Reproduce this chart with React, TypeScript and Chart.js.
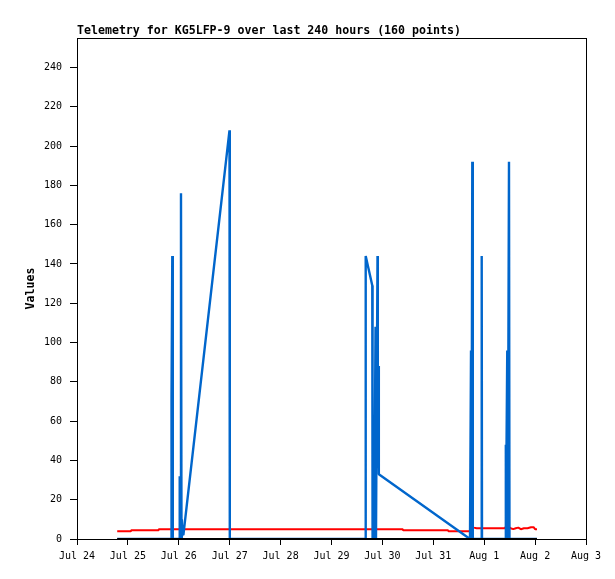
// App.tsx
import { useEffect, useRef } from "react";
import { Chart, registerables } from "chart.js";
import type { ChartConfiguration, Plugin } from "chart.js";

Chart.register(...registerables);

const TITLE = "Telemetry for KG5LFP-9 over last 240 hours (160 points)";
const Y_TITLE = "Values";

// x axis: days since Jul 24 00:00
const X_TICK_LABELS = ["Jul 24", "Jul 25", "Jul 26", "Jul 27", "Jul 28", "Jul 29", "Jul 30", "Jul 31", "Aug 1", "Aug 2", "Aug 3"];

const blueDays = [
  0.79, 1.85, 1.857, 1.872, 1.882, 2.014, 2.018, 2.033, 2.043, 2.053, 2.06, 2.07, 2.08, 2.09,
  2.996, 3.002, 5.668, 5.672, 5.801, 5.807, 5.83, 5.84, 5.865, 5.874, 5.904, 5.91, 5.923, 5.93,
  7.721, 7.741, 7.75, 7.766, 7.776, 7.947, 7.951, 7.957, 8.418, 8.422, 8.428, 8.453, 8.463, 8.487, 8.497, 9.037,
];
const blueValues = [
  0, 0, 72, 144, 0, 0, 32, 0, 176, 0, 10, 2, 6, 2,
  208, 0, 0, 144, 129, 0, 13, 0, 108, 0, 144, 36, 88, 33,
  0, 96, 0, 192, 0, 0, 144, 0, 0, 48, 0, 96, 0, 192, 0, 0,
];

const redDays = [
  0.79, 1.06, 1.065, 1.6, 1.605, 2.05, 2.055, 2.075, 2.08, 6.4, 6.405, 7.29, 7.295, 7.75,
  7.77, 7.8, 7.85, 7.95, 8.4, 8.42, 8.47, 8.52, 8.57, 8.62, 8.67, 8.72, 8.78, 8.85, 8.92, 8.97, 9.0, 9.037,
];
const redValues = [
  4, 4, 4.5, 4.5, 5, 5, 4, 4, 5, 5, 4.5, 4.5, 4, 4,
  6, 5.8, 5.5, 5.5, 5.5, 6, 6.2, 5.5, 5, 5.5, 5.8, 5, 5.5, 5.5, 6, 6, 5, 5,
];

const blackDays = [0.79, 9.037];
const blackValues = [0, 0];

const toPoints = (xs: number[], ys: number[]) => xs.map((x, i) => ({ x, y: ys[i] }));

const MONO = "'DejaVu Sans Mono', monospace";

const framePlugin: Plugin<"line"> = {
  id: "frame",
  beforeDatasetsDraw(chart) {
    const { ctx, chartArea: a } = chart;
    ctx.save();
    ctx.strokeStyle = "#000";
    ctx.lineWidth = 1;
    ctx.strokeRect(a.left + 0.5, a.top + 0.5, a.right - a.left, a.bottom - a.top);
    ctx.restore();
  },
  afterDraw(chart) {
    const { ctx, chartArea: a } = chart;
    ctx.save();
    ctx.fillStyle = "#000";
    ctx.font = `bold 11.6px ${MONO}`;
    ctx.textAlign = "left";
    ctx.textBaseline = "alphabetic";
    ctx.fillText(TITLE, a.left, 34);
    ctx.restore();
  },
};

export default function App() {
  const canvasRef = useRef<HTMLCanvasElement | null>(null);
  const chartRef = useRef<Chart | null>(null);

  useEffect(() => {
    document.body.style.margin = "0";
    const ctx = canvasRef.current!.getContext("2d")!;

    const config: ChartConfiguration<"line", { x: number; y: number }[]> = {
      type: "line",
      data: {
        datasets: [
          {
            label: "black",
            data: toPoints(blackDays, blackValues),
            borderColor: "#000000",
            borderWidth: 2,
            pointRadius: 0,
            order: 0,
          },
          {
            label: "blue",
            data: toPoints(blueDays, blueValues),
            borderColor: "#0066cc",
            borderWidth: 2.4,
            pointRadius: 0,
            order: 1,
          },
          {
            label: "red",
            data: toPoints(redDays, redValues),
            borderColor: "#ff0000",
            borderWidth: 2,
            pointRadius: 0,
            order: 2,
          },
        ],
      },
      options: {
        responsive: true,
        maintainAspectRatio: false,
        animation: false,
        layout: { padding: { top: 38, right: 29, bottom: 0, left: 0 } },
        elements: { line: { tension: 0, borderJoinStyle: "bevel", borderCapStyle: "butt" } },
        plugins: {
          legend: { display: false },
          tooltip: { enabled: false },
          title: { display: false },
        },
        scales: {
          x: {
            type: "linear",
            min: 0,
            max: 10,
            border: { display: false },
            grid: { drawOnChartArea: false, drawTicks: true, tickLength: 6, color: "#000" },
            ticks: {
              stepSize: 1,
              padding: 5,
              color: "#000",
              font: { family: MONO, size: 10 },
              maxRotation: 0,
              autoSkip: false,
              callback: (v) => X_TICK_LABELS[Math.round(Number(v))] ?? "",
            },
            afterFit: (s) => {
              s.height = 40;
            },
          },
          y: {
            type: "linear",
            min: 0,
            max: 255,
            border: { display: false },
            grid: { drawOnChartArea: false, drawTicks: true, tickLength: 7, color: "#000" },
            ticks: {
              stepSize: 20,
              includeBounds: false,
              padding: 8,
              color: "#000",
              font: { family: MONO, size: 10 },
            },
            title: {
              display: true,
              text: Y_TITLE,
              color: "#000",
              font: { family: MONO, size: 11.6, weight: "bold" },
              padding: { top: 24, bottom: 0 },
            },
            afterFit: (s) => {
              s.width = 77;
            },
          },
        },
      },
      plugins: [framePlugin],
    };

    const chart = new Chart(ctx, config);
    chartRef.current = chart;
    return () => chartRef.current?.destroy();
  }, []);

  return (
    <div style={{ position: "absolute", left: 0, top: 0, width: 615, height: 579, background: "#fff" }}>
      <canvas ref={canvasRef} />
    </div>
  );
}
